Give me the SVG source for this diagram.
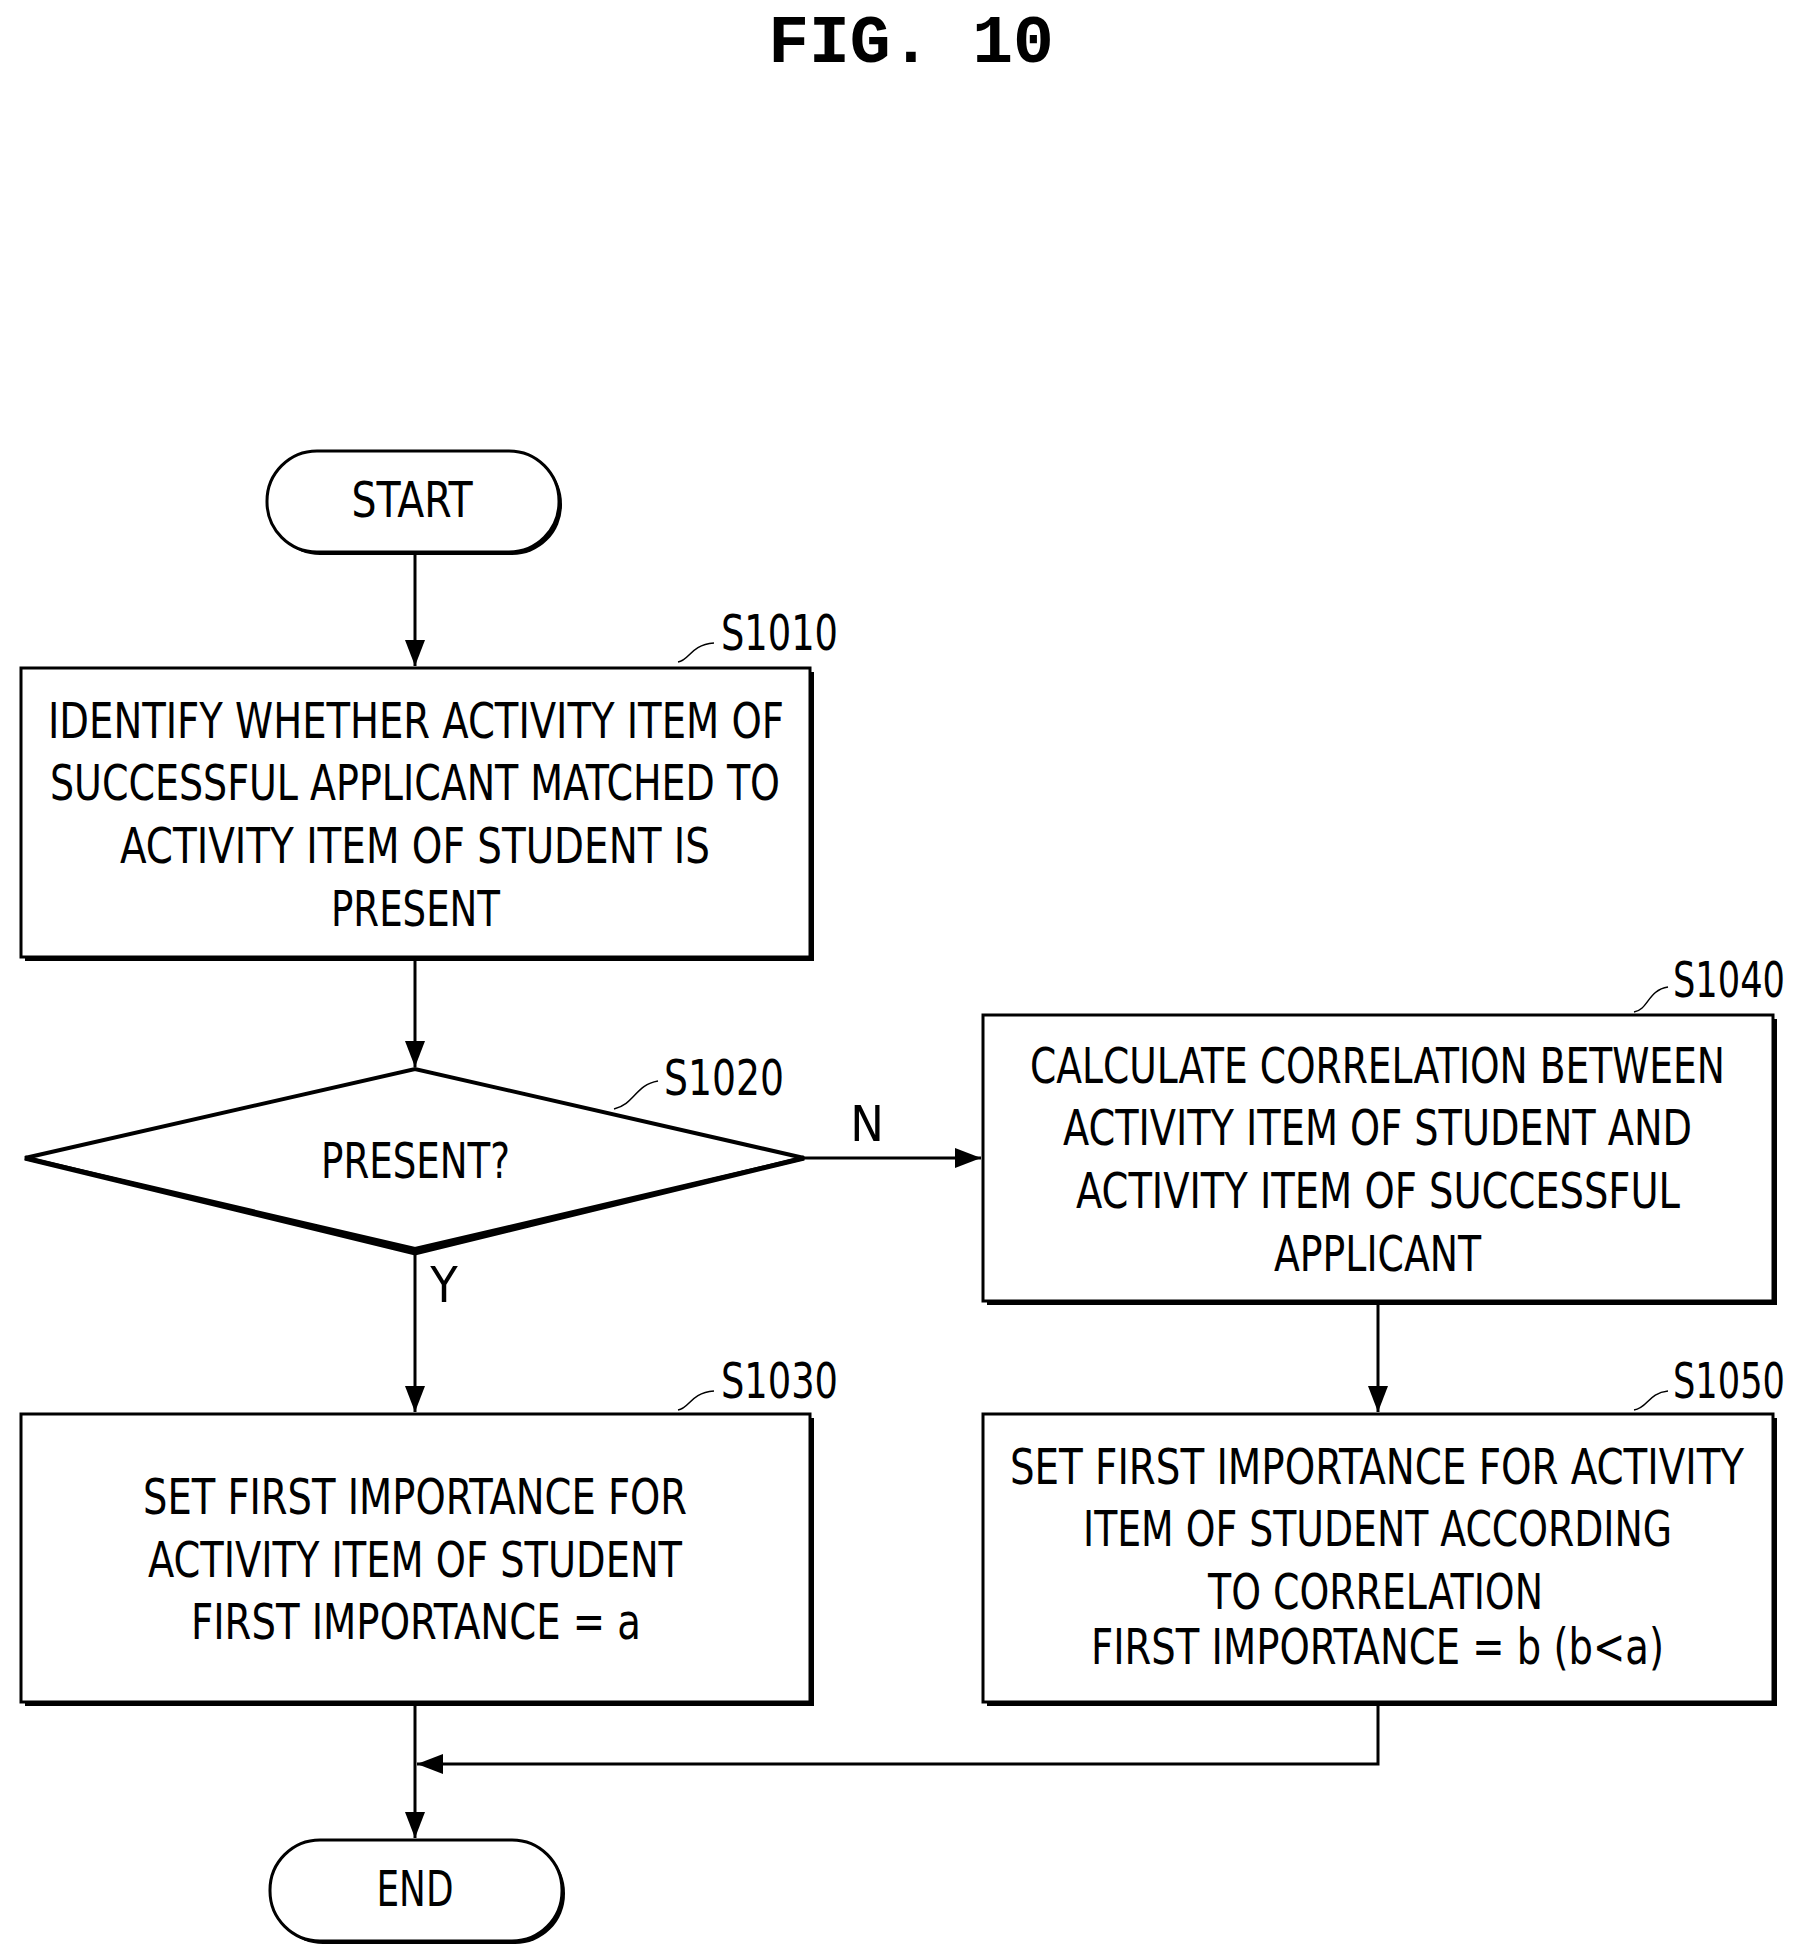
<svg xmlns="http://www.w3.org/2000/svg" width="1809" height="1954" viewBox="0 0 1809 1954">
<style>
.t{font-family:"Liberation Sans Narrow","DejaVu Sans Condensed","Liberation Sans",sans-serif;font-size:50px;fill:#000}
.b{fill:#fff;stroke:#000;stroke-width:3}
.s{fill:#000}
.c{fill:none;stroke:#000;stroke-width:3}
.l{fill:none;stroke:#000;stroke-width:1.5}
</style>
<defs><marker id="a" viewBox="0 0 26 20" refX="26" refY="10" markerWidth="26" markerHeight="20" markerUnits="userSpaceOnUse" orient="auto"><path d="M0,0 L26,10 L0,20 z" fill="#000"/></marker></defs>
<rect width="1809" height="1954" fill="#fff"/>
<text x="911" y="62" text-anchor="middle" style="font-family:'Liberation Mono',monospace;font-weight:bold;font-size:68px">FIG. 10</text>
<g id="connectors">
<path class="c" d="M415,552 V666" marker-end="url(#a)"/>
<path class="c" d="M415,961 V1067" marker-end="url(#a)"/>
<path class="c" d="M804,1158 H981" marker-end="url(#a)"/>
<path class="c" d="M415,1249 V1412" marker-end="url(#a)"/>
<path class="c" d="M1378,1305 V1412" marker-end="url(#a)"/>
<path class="c" d="M1378,1706 V1764 H417" marker-end="url(#a)"/>
<path class="c" d="M415,1706 V1838" marker-end="url(#a)"/>
<text class="t" x="867" y="1141" text-anchor="middle">N</text>
<text class="t" x="444" y="1302" text-anchor="middle">Y</text>
</g>
<g id="start"><rect class="s" x="270" y="454" width="292" height="101" rx="50"/><rect class="b" x="267" y="451" width="292" height="101" rx="50"/><text class="t" x="412" y="517" text-anchor="middle" textLength="121" lengthAdjust="spacingAndGlyphs">START</text></g>
<g id="s1010"><rect class="s" x="25" y="672" width="789" height="289"/><rect class="b" x="21" y="668" width="789" height="289"/>
<path class="l" d="M678,662 C690,660 690,645 714,643"/><text class="t" x="721" y="650" textLength="117" lengthAdjust="spacingAndGlyphs">S1010</text>
<text class="t" x="48" y="738" textLength="736" lengthAdjust="spacingAndGlyphs">IDENTIFY WHETHER ACTIVITY ITEM OF</text>
<text class="t" x="50" y="800" textLength="730" lengthAdjust="spacingAndGlyphs">SUCCESSFUL APPLICANT MATCHED TO</text>
<text class="t" x="120" y="863" textLength="590" lengthAdjust="spacingAndGlyphs">ACTIVITY ITEM OF STUDENT IS</text>
<text class="t" x="331" y="926" textLength="169" lengthAdjust="spacingAndGlyphs">PRESENT</text></g>
<g id="s1020"><path d="M25,1158 L415,1069 L804,1158 L415,1249 Z" fill="#fff" stroke="#000" stroke-width="4"/><path d="M25,1158 L415,1253 L804,1158" fill="none" stroke="#000" stroke-width="5"/>
<text class="t" x="321" y="1178" textLength="189" lengthAdjust="spacingAndGlyphs">PRESENT?</text>
<path class="l" d="M614,1109 C635,1104 635,1085 658,1081"/><text class="t" x="664" y="1095" textLength="120" lengthAdjust="spacingAndGlyphs">S1020</text></g>
<g id="s1030"><rect class="s" x="25" y="1418" width="789" height="288"/><rect class="b" x="21" y="1414" width="789" height="288"/>
<path class="l" d="M678,1410 C690,1408 690,1393 714,1391"/><text class="t" x="721" y="1398" textLength="117" lengthAdjust="spacingAndGlyphs">S1030</text>
<text class="t" x="143" y="1514" textLength="544" lengthAdjust="spacingAndGlyphs">SET FIRST IMPORTANCE FOR</text>
<text class="t" x="148" y="1577" textLength="534" lengthAdjust="spacingAndGlyphs">ACTIVITY ITEM OF STUDENT</text>
<text class="t" x="191" y="1639" textLength="450" lengthAdjust="spacingAndGlyphs">FIRST IMPORTANCE = a</text></g>
<g id="s1040"><rect class="s" x="987" y="1019" width="790" height="286"/><rect class="b" x="983" y="1015" width="790" height="286"/>
<path class="l" d="M1634,1012 C1648,1010 1648,990 1668,987"/><text class="t" x="1673" y="997" textLength="112" lengthAdjust="spacingAndGlyphs">S1040</text>
<text class="t" x="1030" y="1083" textLength="695" lengthAdjust="spacingAndGlyphs">CALCULATE CORRELATION BETWEEN</text>
<text class="t" x="1063" y="1145" textLength="629" lengthAdjust="spacingAndGlyphs">ACTIVITY ITEM OF STUDENT AND</text>
<text class="t" x="1076" y="1208" textLength="604" lengthAdjust="spacingAndGlyphs">ACTIVITY ITEM OF SUCCESSFUL</text>
<text class="t" x="1274" y="1271" textLength="207" lengthAdjust="spacingAndGlyphs">APPLICANT</text></g>
<g id="s1050"><rect class="s" x="987" y="1418" width="790" height="288"/><rect class="b" x="983" y="1414" width="790" height="288"/>
<path class="l" d="M1634,1410 C1648,1408 1648,1393 1668,1391"/><text class="t" x="1673" y="1398" textLength="112" lengthAdjust="spacingAndGlyphs">S1050</text>
<text class="t" x="1010" y="1484" textLength="734" lengthAdjust="spacingAndGlyphs">SET FIRST IMPORTANCE FOR ACTIVITY</text>
<text class="t" x="1083" y="1546" textLength="589" lengthAdjust="spacingAndGlyphs">ITEM OF STUDENT ACCORDING</text>
<text class="t" x="1208" y="1609" textLength="335" lengthAdjust="spacingAndGlyphs">TO CORRELATION</text>
<text class="t" x="1091" y="1664" textLength="573" lengthAdjust="spacingAndGlyphs">FIRST IMPORTANCE = b (b&lt;a)</text></g>
<g id="end"><rect class="s" x="273" y="1843" width="292" height="101" rx="50"/><rect class="b" x="270" y="1840" width="292" height="101" rx="50"/><text class="t" x="415" y="1906" text-anchor="middle" textLength="77" lengthAdjust="spacingAndGlyphs">END</text></g>
</svg>
